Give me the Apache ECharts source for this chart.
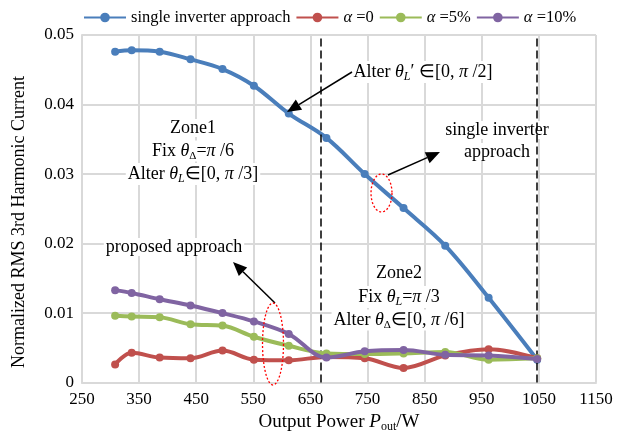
<!DOCTYPE html>
<html>
<head>
<meta charset="utf-8">
<script src="https://cdn.jsdelivr.net/npm/echarts@6/dist/echarts.min.js"></script>
<style>
  html, body { margin: 0; padding: 0; background: #fff; }
  #main { width: 632px; height: 438px; }
</style>
</head>
<body>
<div id="main"></div>
<script>
// output power (W) at each measured point
var powers = [308, 337, 386, 440, 496, 551, 612, 678, 745, 813, 886, 962, 1047];
var singleInverter = [0.0476, 0.0478, 0.0476, 0.0465, 0.0451, 0.0427, 0.0387, 0.0352, 0.0300, 0.0251, 0.0197, 0.0122, 0.0033];
var alpha0 = [0.0026, 0.0043, 0.0036, 0.0035, 0.0046, 0.0033, 0.0032, 0.0037, 0.0035, 0.0021, 0.0039, 0.0048, 0.0035];
var alpha5 = [0.0096, 0.0095, 0.0094, 0.0084, 0.0082, 0.0066, 0.0053, 0.0042, 0.0041, 0.0042, 0.0044, 0.0033, 0.0035];
var alpha10 = [0.0133, 0.0129, 0.0120, 0.0111, 0.0100, 0.0088, 0.0070, 0.0036, 0.0045, 0.0047, 0.0040, 0.0039, 0.0034];
var zoneBounds = [668, 1047];
var seriesNames = ["single inverter approach", "α=0", "α=5%", "α=10%"];
var colors = ["#4a7ebb", "#c0504d", "#9bbb59", "#8064a2"];

var FONT = "Liberation Serif";
var chart = echarts.init(document.getElementById("main"));

function pairs(ys) {
  return powers.map(function (x, i) { return [x, ys[i]]; });
}

// arrow drawn as line + filled head
function arrow(x1, y1, x2, y2) {
  var dx = x2 - x1, dy = y2 - y1;
  var len = Math.sqrt(dx * dx + dy * dy);
  var ux = dx / len, uy = dy / len;
  var hl = 14, hw = 6;
  var bx = x2 - ux * hl, by = y2 - uy * hl;
  return [
    { type: "line", z: 10, shape: { x1: x1, y1: y1, x2: bx, y2: by }, style: { stroke: "#000", lineWidth: 1.5 } },
    { type: "polygon", z: 10, shape: { points: [[x2, y2], [bx - uy * hw, by + ux * hw], [bx + uy * hw, by - ux * hw]] }, style: { fill: "#000" } }
  ];
}

function ellipse(cx, cy, rx, ry) {
  var pts = [];
  for (var i = 0; i < 48; i++) {
    var t = i / 48 * Math.PI * 2;
    pts.push([cx + rx * Math.cos(t), cy + ry * Math.sin(t)]);
  }
  return { type: "polygon", z: 10, shape: { points: pts }, style: { fill: "none", stroke: "#ff0000", lineWidth: 1.3, lineDash: [2, 2] } };
}

function makeRich(size) {
  return {
    i: { fontFamily: FONT, fontSize: size, fontStyle: "italic", color: "#000" },
    s: { fontFamily: FONT, fontSize: Math.round(size * 0.62), color: "#000", padding: [Math.round(size * 0.55), 0, 0, 0] },
    si: { fontFamily: FONT, fontSize: Math.round(size * 0.68), fontStyle: "italic", color: "#000", padding: [Math.round(size * 0.55), 0, 0, 0] },
    n: { fontFamily: FONT, fontSize: size, color: "#000" }
  };
}
var rich = makeRich(18);

function label(x, y, text) {
  return {
    type: "text", x: x, y: y, z: 1,
    style: {
      text: text, rich: rich, font: "18px " + FONT, fill: "#000",
      align: "center", verticalAlign: "middle",
      backgroundColor: "#fff", padding: [0, 2]
    }
  };
}

var graphics = []
  .concat(arrow(352, 72, 287, 112))
  .concat(arrow(388, 175, 440, 152))
  .concat(arrow(275, 303, 233, 262))
  .concat([
    ellipse(381.5, 193, 10.5, 19),
    ellipse(273, 344, 10.5, 41),
    label(423, 72, "{n|Alter }{i|θ}{si|L}{n|′ ∈[0, }{i|π}{n| /2]}"),
    label(497, 130, "{n|single inverter}"),
    label(497, 152, "{n|approach}"),
    label(193, 128, "{n|Zone1}"),
    label(193, 151, "{n|Fix }{i|θ}{s|Δ}{n|=}{i|π}{n| /6}"),
    label(193, 174, "{n|Alter }{i|θ}{si|L}{n|∈[0, }{i|π}{n| /3]}"),
    label(174, 247, "{n|proposed approach}"),
    label(399, 273, "{n|Zone2}"),
    label(399, 297, "{n|Fix }{i|θ}{si|L}{n|=}{i|π}{n| /3}"),
    label(399, 320, "{n|Alter }{i|θ}{s|Δ}{n|∈[0, }{i|π}{n| /6]}"),
    // y axis title
    {
      type: "text", x: 19, y: 222, rotation: Math.PI / 2,
      style: { text: "Normalized RMS 3rd Harmonic Current", font: "18px " + FONT, fill: "#000", align: "center", verticalAlign: "middle" }
    }
  ]);

var series = [singleInverter, alpha0, alpha5, alpha10].map(function (ys, k) {
  return {
    name: seriesNames[k],
    type: "line",
    data: pairs(ys),
    smooth: 0.35,
    symbol: "circle",
    symbolSize: 8,
    color: colors[k],
    lineStyle: { width: 4, color: colors[k] },
    itemStyle: { color: colors[k] },
    z: 3 + k
  };
});
series[0].markLine = {
  silent: true,
  symbol: "none",
  label: { show: false },
  lineStyle: { color: "#000", type: [8, 4], width: 1.5 },
  data: zoneBounds.map(function (v) { return { xAxis: v }; })
};

var option = {
  animation: false,
  backgroundColor: "#fff",
  textStyle: { fontFamily: FONT },
  grid: { left: 82, right: 36, top: 35, bottom: 49 },
  legend: {
    top: 4,
    left: 78,
    itemWidth: 42,
    itemHeight: 12,
    itemGap: 5,
    data: seriesNames,
    formatter: function (name) {
      if (name.charAt(0) === "α") return "{i|α}{n| " + name.slice(1) + "}";
      return "{n|" + name + "}";
    },
    textStyle: { fontFamily: FONT, fontSize: 16.5, color: "#000", rich: makeRich(16.5) }
  },
  xAxis: {
    type: "value",
    min: 250,
    max: 1150,
    interval: 100,
    name: "{n|Output Power }{i|P}{s|out}{n|/W}",
    nameLocation: "middle",
    nameGap: 25,
    nameTextStyle: { rich: makeRich(19) },
    axisLine: { show: true, lineStyle: { color: "#d9d9d9", width: 2 } },
    axisTick: { show: false },
    axisLabel: { fontFamily: FONT, fontSize: 17, color: "#000", margin: 8, formatter: function (v) { return String(v); } },
    splitLine: { show: true, lineStyle: { color: "#d9d9d9", width: 2 } }
  },
  yAxis: {
    type: "value",
    min: 0,
    max: 0.05,
    interval: 0.01,
    axisLine: { show: true, lineStyle: { color: "#d9d9d9", width: 2 } },
    axisTick: { show: false },
    axisLabel: { fontFamily: FONT, fontSize: 17, color: "#000", margin: 8, formatter: function (v) { return String(v); } },
    splitLine: { show: true, lineStyle: { color: "#d9d9d9", width: 2 } }
  },
  graphic: graphics,
  series: series
};

chart.setOption(option);
</script>
</body>
</html>
